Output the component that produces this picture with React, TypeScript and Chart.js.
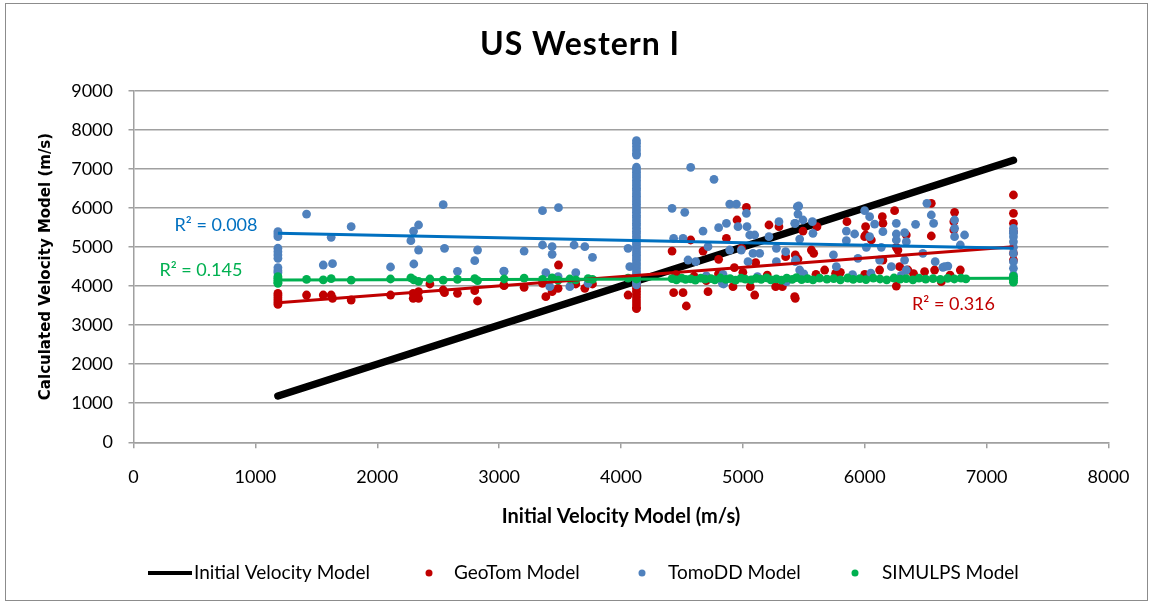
import { useEffect, useRef } from "react";
import { Chart, registerables } from "chart.js";

Chart.register(...registerables);

// ---- axis ticks ----
const xTickValues = [0, 1000, 2000, 3000, 4000, 5000, 6000, 7000, 8000];
const yTickValues = [0, 1000, 2000, 3000, 4000, 5000, 6000, 7000, 8000, 9000];

// ---- Initial Velocity Model (identity line) ----
const initialX = [1185, 7220];
const initialY = [1185, 7220];

// ---- GeoTom Model [initial, calculated] ----
const geoTomPoints: [number, number][] = [
  [1185, 3810], [1185, 3760], [1185, 3700], [1185, 3640], [1185, 3580], [1185, 3530],
  [1420, 3770], [1557, 3770], [1622, 3770], [1633, 3685], [1786, 3642], [2109, 3770],
  [2295, 3813], [2339, 3855], [2295, 3685], [2339, 3685], [2432, 4052], [2541, 3898],
  [2552, 3830], [2658, 3813], [2800, 3880], [2823, 3617], [3041, 4009], [3205, 3966],
  [3038, 4026], [3356, 4070], [3383, 3727], [3435, 3855], [3487, 4538], [3484, 3941],
  [3629, 4052], [3703, 3941], [3766, 4052], [4058, 3770],
  [4127, 4180], [4127, 4100], [4127, 4020], [4127, 3940], [4127, 3860], [4127, 3780],
  [4127, 3700], [4127, 3620], [4127, 3540], [4127, 3460], [4127, 3420],
  [4419, 4896], [4432, 3830], [4509, 3830], [4536, 3489], [4572, 5178], [4673, 4896],
  [4714, 3855], [4801, 4683], [4865, 5221], [4919, 3983], [4952, 5690], [5029, 6014],
  [4990, 4965], [5061, 3983], [5097, 3770], [5105, 4597], [5214, 5562], [5296, 5519],
  [5269, 3983], [5324, 3983], [5430, 3685], [5430, 4795], [5351, 4751],
  [5493, 5408], [5608, 5519], [5562, 4922], [5581, 4837], [5452, 4692], [5671, 4410],
  [5761, 4326], [5425, 3727], [5854, 5647], [6007, 5519], [6007, 5306], [5999, 5263],
  [6054, 5178], [6144, 5774], [6149, 5605], [6245, 5928], [6259, 4991], [6272, 4922],
  [6341, 5306], [6149, 4666], [6122, 4410], [6286, 4495], [6354, 4410], [6259, 4000],
  [6491, 4367], [6546, 6117], [6546, 5281], [6573, 4410], [6628, 4111], [6737, 5886],
  [6731, 5647], [6731, 5434], [6784, 4410],
  [4450, 4290], [4600, 4250], [4700, 4140], [4800, 4310], [5000, 4350], [5200, 4280],
  [5600, 4300], [5800, 4350], [6000, 4300], [6400, 4320], [6700, 4280], [4930, 4470],
  [7220, 6330], [7220, 5861], [7220, 5605], [7220, 5391], [7220, 4837], [7220, 4666],
];

// ---- TomoDD Model [initial, calculated] ----
const tomoDDPoints: [number, number][] = [
  [1185, 5390], [1185, 5330], [1185, 5263], [1185, 4967], [1185, 4880], [1185, 4795],
  [1185, 4710], [1185, 4469], [1185, 4392], [1185, 4341],
  [1420, 5843], [1622, 5247], [1557, 4538], [1633, 4572], [1786, 5519], [2109, 4487],
  [2276, 5160], [2298, 5408], [2339, 5562], [2300, 4564], [2339, 4922], [2541, 6082],
  [2552, 4965], [2658, 4377], [2800, 4648], [2823, 4922], [3041, 4377], [3205, 4896],
  [3356, 5928], [3487, 6005], [3356, 5050], [3435, 5007], [3435, 4812], [3615, 5050],
  [3703, 5007], [3766, 4735], [3383, 4341], [3416, 3983], [3484, 4239], [3580, 3983],
  [3629, 4341], [3730, 4070], [3038, 4384], [4058, 4965], [4072, 4495],
  [4127, 7720], [4127, 7653], [4127, 7566], [4127, 7481], [4127, 7396], [4127, 7353],
  [4127, 7040], [4127, 6975], [4127, 6910], [4127, 6840], [4127, 6780], [4127, 6705],
  [4127, 6640], [4127, 6570], [4127, 6500], [4127, 6440], [4127, 6365], [4127, 6300],
  [4127, 6230], [4127, 6160], [4127, 6095], [4127, 6020], [4127, 5955], [4127, 5890],
  [4127, 5815], [4127, 5750], [4127, 5680], [4127, 5610], [4127, 5545], [4127, 5470],
  [4127, 5400], [4127, 5340], [4127, 5265], [4127, 5200], [4127, 5130], [4127, 5060],
  [4127, 4990], [4127, 4925], [4127, 4850], [4127, 4785], [4127, 4715], [4127, 4650],
  [4127, 4575], [4127, 4510], [4127, 4440], [4127, 4370], [4127, 4305], [4127, 4240],
  [4127, 4170], [4127, 4100], [4127, 4030],
  [4419, 5989], [4523, 5886], [4572, 7039], [4763, 6731], [4432, 5221], [4509, 5221],
  [4550, 4666], [4613, 4623], [4673, 5408], [4714, 5007], [4801, 5493], [4865, 5605],
  [4892, 6099], [4947, 6099], [5029, 5861], [5034, 5519], [4960, 5519], [5056, 5306],
  [5097, 5306], [4892, 4922], [4987, 4922], [5083, 4837], [5042, 4623], [5138, 4837],
  [5214, 5263], [5296, 5647], [5275, 4965], [5351, 4880], [5430, 5605], [5447, 6030],
  [5430, 4623], [4832, 4070], [4837, 4300], [5275, 4623], [5357, 4111], [4842, 4052],
  [5458, 6048], [5452, 5843], [5493, 5690], [5425, 5605], [5570, 5647], [5575, 5349],
  [5466, 5203], [5433, 4666], [5466, 4410], [5743, 4795], [5767, 4495], [5849, 5408],
  [5917, 5332], [5849, 5160], [5944, 4709], [5999, 5928], [6040, 5774], [6081, 5587],
  [6040, 5263], [6013, 4991], [6136, 4991], [6149, 5391], [6122, 4666], [6218, 4495],
  [6259, 5605], [6259, 5332], [6259, 5178], [6327, 5365], [6341, 5134], [6327, 4666],
  [6417, 5579], [6477, 4837], [6510, 6117], [6546, 5818], [6565, 5605], [6578, 4623],
  [6641, 4479], [6341, 4410], [6737, 5690], [6737, 5477], [6737, 5263], [6819, 5306],
  [6784, 5050], [6655, 4495], [6682, 4512],
  [4700, 4260], [5120, 4240], [5500, 4310], [5900, 4290], [6300, 4270], [6050, 4330],
  [7220, 5477], [7220, 5391], [7220, 5349], [7220, 5263], [7220, 5134], [7220, 4991],
  [7220, 4837], [7220, 4623], [7220, 4453], [7220, 4282],
];

// ---- SIMULPS Model [initial, calculated] ----
const simulpsPoints: [number, number][] = [
  [1185, 4239], [1185, 4200], [1185, 4150], [1185, 4100], [1185, 4070],
  [1420, 4170], [1557, 4160], [1622, 4190], [1786, 4150], [2109, 4180], [2276, 4210],
  [2300, 4160], [2339, 4120], [2432, 4180], [2541, 4150], [2658, 4170], [2800, 4190],
  [2823, 4140], [3041, 4180], [3205, 4200], [3356, 4170], [3435, 4210], [3484, 4150],
  [3580, 4180], [3629, 4160], [3730, 4190], [3766, 4170], [4058, 4200], [4127, 4180],
  [4419, 4190], [4455, 4160], [4498, 4200], [4530, 4170], [4572, 4185], [4610, 4150],
  [4655, 4200], [4690, 4175], [4738, 4190], [4770, 4160], [4815, 4205], [4860, 4170],
  [4895, 4190], [4940, 4150], [4985, 4200], [5020, 4175], [5068, 4160], [5110, 4195],
  [5150, 4170], [5195, 4210], [5230, 4160], [5275, 4185], [5318, 4150], [5360, 4200],
  [5405, 4170], [5440, 4215], [5482, 4165], [5530, 4190], [5575, 4160], [5630, 4200],
  [5690, 4175], [5745, 4190], [5800, 4160], [5860, 4205], [5905, 4170], [5960, 4190],
  [6010, 4165], [6070, 4200], [6125, 4180], [6180, 4160], [6240, 4205], [6290, 4175],
  [6340, 4190], [6395, 4160], [6445, 4200], [6500, 4175], [6560, 4190], [6620, 4170],
  [6680, 4195], [6735, 4180], [6790, 4200], [6830, 4185],
  [7220, 4250], [7220, 4200], [7220, 4150], [7220, 4100],
];

// ---- linear trend lines (end points) ----
const trendX = [1185, 7220];
const geoTomTrendY = [3573, 5006];
const tomoDDTrendY = [5350, 4965];
const simulpsTrendY = [4155, 4200];

// ---- R² annotations ----
const rSquaredLabels = ["R² = 0.316", "R² = 0.008", "R² = 0.145"];

const RED = "#C00000";
const BLUE_PT = "#4F81BD";
const BLUE_LINE = "#0070C0";
const GREEN = "#00B050";
const GRID = "#A0A0A0";
const FONT = "Lato, 'Noto Sans', sans-serif";

// where each R² text sits, in data units, with its colour
const rSquaredPlacement = [
  { x: 6728, y: 3540, color: RED },
  { x: 677, y: 5549, color: BLUE_LINE },
  { x: 553, y: 4410, color: GREEN },
];

const toXY = (pts: [number, number][]) => pts.map(([x, y]) => ({ x, y }));
const lineXY = (xs: number[], ys: number[]) => xs.map((x, i) => ({ x, y: ys[i] }));

const decorPlugin = {
  id: "decor",
  beforeDraw(chart: any) {
    const { ctx, width, height } = chart;
    ctx.save();
    ctx.fillStyle = "#ffffff";
    ctx.fillRect(0, 0, width, height);
    ctx.strokeStyle = "#8C8C8C";
    ctx.lineWidth = 1;
    ctx.strokeRect(5.5, 3.5, 1142, 597);
    ctx.restore();
  },
  afterDraw(chart: any) {
    const { ctx, chartArea, scales } = chart;
    ctx.save();
    ctx.fillStyle = "#000";

    // title
    ctx.font = `bold 32px ${FONT}`;
    ctx.textAlign = "center";
    ctx.textBaseline = "alphabetic";
    (ctx as any).letterSpacing = "1px";
    ctx.fillText("US Western I", 580, 55);
    (ctx as any).letterSpacing = "0px";

    // x-axis title
    ctx.font = `bold 20px ${FONT}`;
    ctx.fillText("Initial Velocity Model (m/s)", (chartArea.left + chartArea.right) / 2, 523);

    // y-axis title
    ctx.save();
    ctx.translate(46, (chartArea.top + chartArea.bottom) / 2);
    ctx.rotate(-Math.PI / 2);
    ctx.font = "bold 15px 'DejaVu Sans', sans-serif";
    ctx.textBaseline = "middle";
    ctx.fillText("Calculated Velocity Model (m/s)", 0, 0);
    ctx.restore();

    // R² labels
    ctx.font = `18px ${FONT}`;
    ctx.textAlign = "center";
    ctx.textBaseline = "middle";
    rSquaredLabels.forEach((t, i) => {
      const p = rSquaredPlacement[i];
      ctx.fillStyle = p.color;
      ctx.fillText(t, scales.x.getPixelForValue(p.x), scales.y.getPixelForValue(p.y));
    });

    // legend
    const ly = 573;
    ctx.font = `19px ${FONT}`;
    ctx.textAlign = "left";
    ctx.fillStyle = "#000";
    ctx.strokeStyle = "#000";
    ctx.lineWidth = 4;
    ctx.beginPath();
    ctx.moveTo(148, ly);
    ctx.lineTo(192, ly);
    ctx.stroke();
    ctx.fillText("Initial Velocity Model", 194, ly);
    const dots = [
      { x: 429, color: RED, text: "GeoTom Model", tx: 454 },
      { x: 642, color: BLUE_PT, text: "TomoDD Model", tx: 668 },
      { x: 855, color: GREEN, text: "SIMULPS Model", tx: 882 },
    ];
    dots.forEach((d) => {
      ctx.fillStyle = d.color;
      ctx.beginPath();
      ctx.arc(d.x, ly, 3.5, 0, Math.PI * 2);
      ctx.fill();
      ctx.fillStyle = "#000";
      ctx.fillText(d.text, d.tx, ly);
    });
    ctx.restore();
  },
};

export default function App() {
  const canvasRef = useRef<HTMLCanvasElement | null>(null);

  useEffect(() => {
    document.body.style.margin = "0";
    const canvas = canvasRef.current;
    if (!canvas) return;

    const scatterStyle = (color: string) => ({
      backgroundColor: color,
      borderColor: color,
      borderWidth: 0,
      pointRadius: 4.4,
      pointHoverRadius: 4.4,
      showLine: false,
    });
    const trendStyle = (color: string) => ({
      borderColor: color,
      backgroundColor: color,
      borderWidth: 3,
      pointRadius: 0,
      showLine: true,
      fill: false,
    });

    const chart = new Chart(canvas, {
      type: "scatter",
      data: {
        datasets: [
          { label: "Initial Velocity Model", data: lineXY(initialX, initialY), borderColor: "#000", backgroundColor: "#000", borderWidth: 7.5, borderCapStyle: "round", pointRadius: 0, showLine: true, order: 6 } as any,
          { label: "GeoTom Model", data: toXY(geoTomPoints), ...scatterStyle(RED), order: 5 },
          { label: "TomoDD Model", data: toXY(tomoDDPoints), ...scatterStyle(BLUE_PT), order: 4 },
          { label: "SIMULPS Model", data: toXY(simulpsPoints), ...scatterStyle(GREEN), order: 3 },
          { label: "GeoTom trend", data: lineXY(trendX, geoTomTrendY), ...trendStyle(RED), order: 2 },
          { label: "TomoDD trend", data: lineXY(trendX, tomoDDTrendY), ...trendStyle(BLUE_LINE), order: 1 },
          { label: "SIMULPS trend", data: lineXY(trendX, simulpsTrendY), ...trendStyle(GREEN), order: 0 },
        ],
      },
      options: {
        animation: false,
        responsive: true,
        maintainAspectRatio: false,
        devicePixelRatio: 1,
        layout: { padding: { top: 90.7, right: 43.5, bottom: 0, left: 0 } },
        plugins: { legend: { display: false }, title: { display: false }, tooltip: { enabled: false } },
        events: [],
        scales: {
          x: {
            type: "linear",
            min: 0,
            max: 8000,
            afterFit: (s: any) => { s.height = 603 - 442.3; },
            afterBuildTicks: (s: any) => { s.ticks = xTickValues.map((v) => ({ value: v })); },
            grid: { display: true, drawOnChartArea: false, drawTicks: true, tickLength: 6, color: GRID, lineWidth: 1.5 },
            border: { display: true, color: GRID, width: 1.5 },
            ticks: { color: "#000", font: { family: FONT, size: 18 }, padding: 18, maxRotation: 0, callback: (v: any) => String(v) },
          },
          y: {
            type: "linear",
            min: 0,
            max: 9000,
            afterFit: (s: any) => { s.width = 133.5; },
            afterBuildTicks: (s: any) => { s.ticks = yTickValues.map((v) => ({ value: v })); },
            grid: { display: true, drawTicks: true, tickLength: 5, color: GRID, lineWidth: 1.5 },
            border: { display: true, color: GRID, width: 1.5 },
            ticks: { color: "#000", font: { family: FONT, size: 18 }, padding: 15.5, callback: (v: any) => String(v) },
          },
        },
      },
      plugins: [decorPlugin],
    });

    return () => chart.destroy();
  }, []);

  return (
    <div style={{ position: "relative", width: "1152px", height: "603px" }}>
      <canvas ref={canvasRef} />
    </div>
  );
}
